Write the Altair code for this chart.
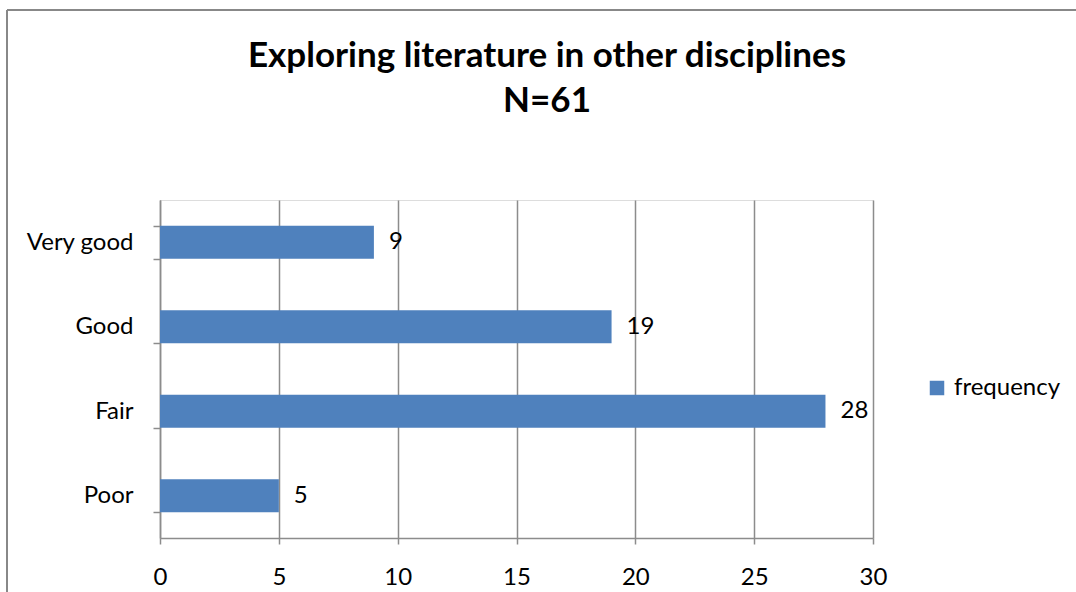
import altair as alt
import pandas as pd

# Survey responses: self-rated skill in exploring literature in other disciplines
ratings = ["Very good", "Good", "Fair", "Poor"]
frequency = [9, 19, 28, 5]
x_ticks = [0, 5, 10, 15, 20, 25, 30]
title_lines = ["Exploring literature in other disciplines", "N=61"]

df = pd.DataFrame({"rating": ratings, "frequency": frequency, "series": ["frequency"] * len(ratings)})

FONT = "Lato"
BAR = "#4F81BD"
GRID = "#8C8C8C"
FS = 24
TITLE_FS = 35

y_enc = alt.Y(
    "rating:N",
    sort=ratings,
    title=None,
    scale=alt.Scale(paddingInner=0.61, paddingOuter=0.305),
    axis=alt.Axis(
        labelFont=FONT, labelFontSize=FS, labelColor="#000000", labelPadding=20,
        domainColor=GRID, domainWidth=1.5, tickColor=GRID, tickWidth=1.5,
        tickSize=7, tickBand="extent", grid=False,
    ),
)

bars = alt.Chart(df).mark_bar(color=BAR).encode(
    x=alt.X(
        "frequency:Q",
        title=None,
        scale=alt.Scale(domain=[0, 30], nice=False),
        axis=alt.Axis(
            values=x_ticks, labelFont=FONT, labelFontSize=FS, labelColor="#000000",
            labelPadding=21, labelFlush=False, domainColor=GRID, domainWidth=1.5,
            tickColor=GRID, tickWidth=1.5, tickSize=6, gridColor=GRID, gridWidth=1.5,
        ),
    ),
    y=y_enc,
    color=alt.Color(
        "series:N",
        scale=alt.Scale(range=[BAR]),
        legend=alt.Legend(
            title=None, orient="none", legendX=765, legendY=176, symbolType="square",
            symbolSize=210, symbolStrokeWidth=0, labelFont=FONT, labelFontSize=FS,
            labelColor="#000000", labelOffset=5,
        ),
    ),
)

labels = alt.Chart(df).mark_text(
    align="left", baseline="middle", dx=15, font=FONT, fontSize=FS, color="#000000"
).encode(x="frequency:Q", y=alt.Y("rating:N", sort=ratings), text="frequency:Q")

# two-line chart heading
title_df = pd.DataFrame({"line": title_lines})
heading_1 = alt.Chart(title_df.iloc[[0]]).mark_text(
    font=FONT, fontSize=TITLE_FS, fontWeight="bold", color="#000000", baseline="middle"
).encode(x=alt.value(387), y=alt.value(-144), text="line:N")
heading_2 = alt.Chart(title_df.iloc[[1]]).mark_text(
    font=FONT, fontSize=TITLE_FS, fontWeight="bold", color="#000000", baseline="middle"
).encode(x=alt.value(387), y=alt.value(-99), text="line:N")

# outer frame lines of the chart box
frame_top = alt.Chart(df).mark_rule(color="#888888", strokeWidth=2).encode(
    x=alt.value(-153), x2=alt.value(916), y=alt.value(-190)
)
frame_left = alt.Chart(df).mark_rule(color="#888888", strokeWidth=2).encode(
    x=alt.value(-153), y=alt.value(-190), y2=alt.value(392)
)

chart = alt.layer(bars, labels, heading_1, heading_2, frame_top, frame_left).properties(
    width=713,
    height=338,
    autosize=alt.AutoSizeParams(type="none"),
    padding={"left": 160, "top": 200, "right": 203, "bottom": 55},
).configure_view(stroke=None).configure(background="#FFFFFF")

chart.save("out.html", embed_options={"renderer": "svg", "actions": False})
